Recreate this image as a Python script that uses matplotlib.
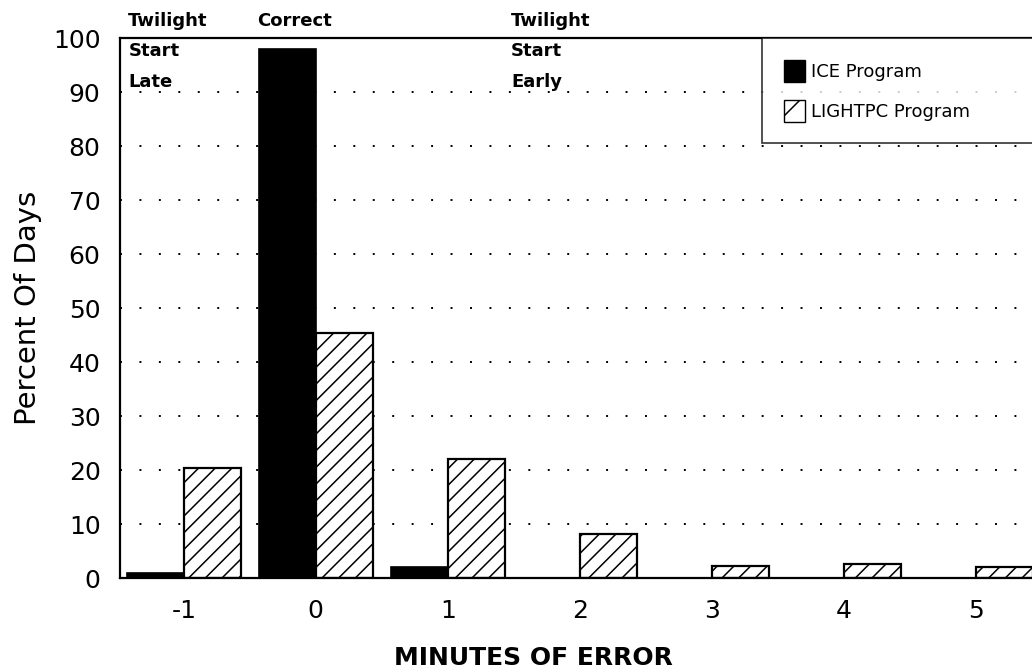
import numpy as np
import matplotlib
matplotlib.use("Agg")
import matplotlib.pyplot as plt
from matplotlib.patches import Patch

plt.rcParams['font.family'] = ['DejaVu Sans']
plt.rcParams['hatch.linewidth'] = 1.1

# data
minutes = ["-1", "0", "1", "2", "3", "4", "5"]
ice = [1.0, 98.0, 2.0, 0.0, 0.0, 0.0, 0.0]
lightpc = [20.4, 45.4, 22.0, 8.1, 2.2, 2.6, 2.0]
yticks = [0, 10, 20, 30, 40, 50, 60, 70, 80, 90, 100]

x = np.arange(len(minutes)) - 1
w = 0.43

fig = plt.figure(figsize=(10.32, 6.72), dpi=100)
ax = fig.add_axes([120/1032, (672-578)/672, 1 - 120/1032, 540/672])

# dotted grid behind bars
for yv in yticks[1:-1]:
    ax.axhline(yv, color="black", lw=1.4, ls=(0, (1, 9)), zorder=1)

ax.bar(x - w/2, ice, width=w, color="black", edgecolor="black", lw=1.2, zorder=2,
       label="ICE Program")
ax.bar(x + w/2, lightpc, width=w, color="white", edgecolor="black", lw=1.6, hatch="//",
       zorder=2, label="LIGHTPC Program")

ax.set_xlim(-1.483, 5.426)
ax.set_ylim(0, 100)
ax.set_xticks(x)
ax.set_xticklabels(minutes, fontsize=18)
ax.set_yticks(yticks)
ax.tick_params(axis="y", length=0, labelsize=18, pad=14)
ax.tick_params(axis="x", length=0, pad=15)
for s in ax.spines.values():
    s.set_linewidth(1.6)
ax.spines["right"].set_visible(False)

ax.set_ylabel("Percent Of Days", fontsize=21, labelpad=8)
ax.set_xlabel("MINUTES OF ERROR", fontsize=18, fontweight="bold")
ax.xaxis.set_label_coords((533-120)/912, -0.126)

# labels across the top
ax.text(-1.42, 101.5, "Twilight", fontsize=13, fontweight="bold", va="bottom")
ax.text(-1.42, 99.2, "Start\nLate", fontsize=13, fontweight="bold", va="top", linespacing=1.9)
ax.text(-0.445, 101.5, "Correct", fontsize=13, fontweight="bold", va="bottom")
ax.text(1.48, 101.5, "Twilight", fontsize=13, fontweight="bold", va="bottom")
ax.text(1.48, 99.2, "Start\nEarly", fontsize=13, fontweight="bold", va="top", linespacing=1.9)

handles = [Patch(facecolor="black", edgecolor="black", label="ICE Program"),
           Patch(facecolor="white", edgecolor="black", hatch="/", label="LIGHTPC Program")]
leg = ax.legend(handles=handles, loc="upper left", bbox_to_anchor=(642/912, 1.0, 400/912, 0),
                mode="expand", fontsize=13, frameon=True, fancybox=False, borderpad=1.2,
                handlelength=1.2, handleheight=1.5, handletextpad=0.3,
                labelspacing=1.0, borderaxespad=0)
leg.get_frame().set_edgecolor("black")
leg.get_frame().set_linewidth(1.2)

fig.savefig("out.png", dpi=100)
